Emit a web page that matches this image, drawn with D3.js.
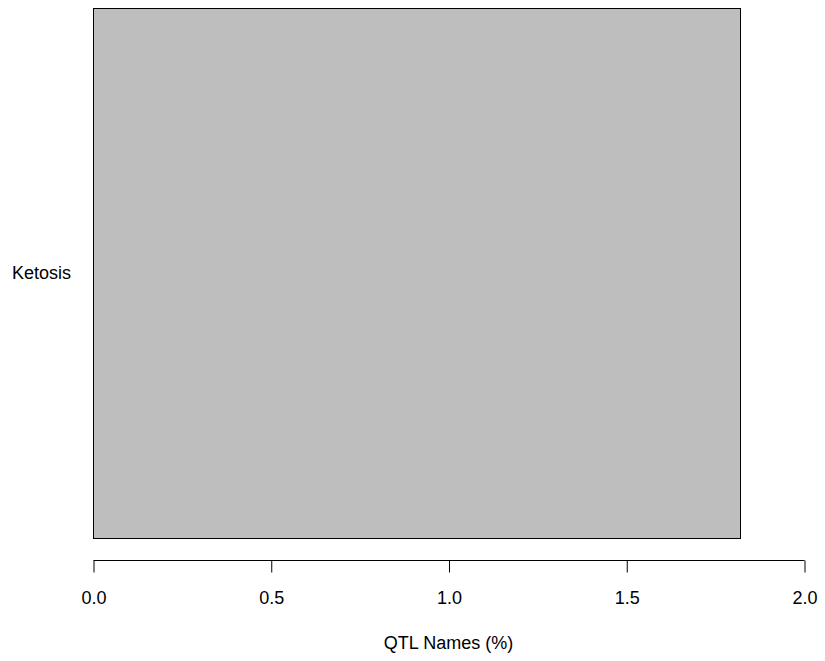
<!DOCTYPE html>
<html>
<head>
<meta charset="utf-8">
<script src="https://cdn.jsdelivr.net/npm/d3@7"></script>
<style>
  html, body { margin: 0; padding: 0; background: #fff; }
  svg { display: block; font-family: "Liberation Sans", Arial, Helvetica, sans-serif; }
</style>
</head>
<body>
<svg id="chart" width="825" height="661"></svg>
<script>
const categories = ["Ketosis"];
const values = [1.82];
const xTicks = [0, 0.5, 1.0, 1.5, 2.0];
const xTickLabels = ["0.0", "0.5", "1.0", "1.5", "2.0"];
const xTitle = "QTL Names (%)";

const svg = d3.select("#chart");
const x = d3.scaleLinear().domain([0, 2]).range([93, 804]);
const y = d3.scaleBand().domain(categories).range([8, 538]).paddingInner(0).paddingOuter(0);

svg.selectAll("rect.bar")
  .data(categories)
  .enter().append("rect")
  .attr("class", "bar")
  .attr("x", x(0) + 0.5)
  .attr("y", d => y(d) + 0.5)
  .attr("width", (d, i) => x(values[i]) - x(0))
  .attr("height", y.bandwidth())
  .attr("fill", "#bebebe")
  .attr("stroke", "#000")
  .attr("stroke-width", 1);

const axis = d3.axisBottom(x)
  .tickValues(xTicks)
  .tickFormat((d, i) => xTickLabels[i])
  .tickSizeOuter(0)
  .tickSizeInner(12)
  .tickPadding(19);

const ag = svg.append("g")
  .attr("transform", "translate(0.5,560.5)")
  .call(axis);
ag.select(".domain").attr("d", `M${x(0)},0H${x(2)}`).attr("stroke", "#000");
ag.selectAll(".tick line").attr("stroke", "#000");
ag.selectAll(".tick text")
  .attr("fill", "#000")
  .style("font-size", "18px")
  .style("font-family", "\"Liberation Sans\", Arial, sans-serif");

svg.selectAll("text.cat")
  .data(categories)
  .enter().append("text")
  .attr("class", "cat")
  .attr("x", 71)
  .attr("y", d => y(d) + y.bandwidth() / 2)
  .attr("dy", "0.35em")
  .attr("text-anchor", "end")
  .style("font-size", "18px")
  .attr("fill", "#000")
  .text(d => d);

svg.append("text")
  .attr("x", (x(0) + x(2)) / 2)
  .attr("y", 649)
  .attr("text-anchor", "middle")
  .style("font-size", "18px")
  .attr("fill", "#000")
  .text(xTitle);
</script>
</body>
</html>
